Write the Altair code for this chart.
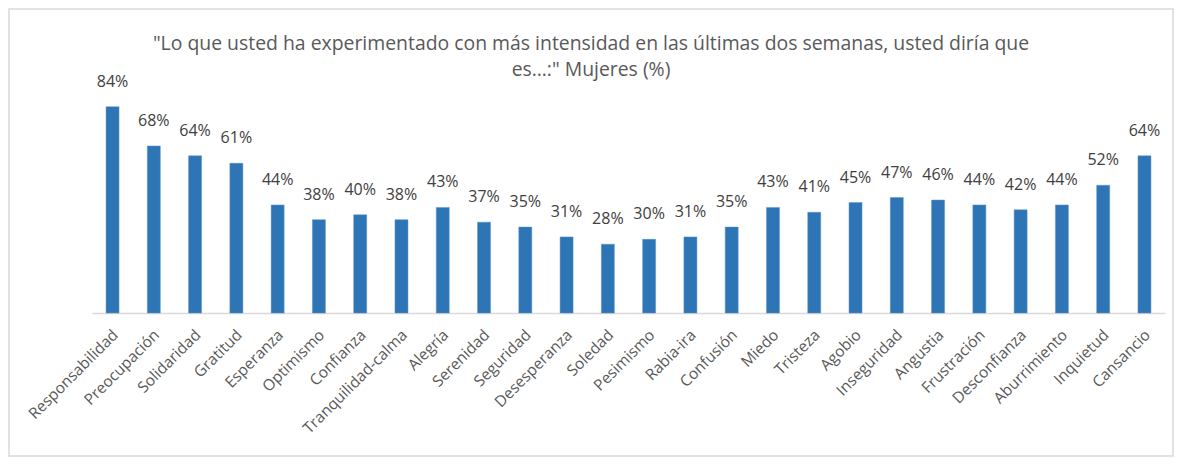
import altair as alt
import pandas as pd

categories = ["Responsabilidad", "Preocupación", "Solidaridad", "Gratitud", "Esperanza",
              "Optimismo", "Confianza", "Tranquilidad-calma", "Alegría", "Serenidad",
              "Seguridad", "Desesperanza", "Soledad", "Pesimismo", "Rabia-ira",
              "Confusión", "Miedo", "Tristeza", "Agobio", "Inseguridad", "Angustia",
              "Frustración", "Desconfianza", "Aburrimiento", "Inquietud", "Cansancio"]
values = [84, 68, 64, 61, 44, 38, 40, 38, 43, 37, 35, 31, 28, 30, 31, 35, 43, 41,
          45, 47, 46, 44, 42, 44, 52, 64]
title_lines = ["\"Lo que usted ha experimentado con más intensidad en las últimas dos semanas, usted diría que",
               "es…:\" Mujeres (%)"]

df = pd.DataFrame({"cat": categories, "val": [v / 100 for v in values],
                   "lab": [f"{v}%" for v in values]})

W, H = 1073, 221
PL, PT, PR, PB = 84, 84, 9, 144
FONT = "Open Sans"

x = alt.X("cat:N", sort=categories, title=None,
          scale=alt.Scale(paddingInner=0.685, paddingOuter=0.34),
          axis=alt.Axis(labelAngle=-45, labelAlign="right", labelBaseline="middle",
                        ticks=False, domainColor="#d9d9d9", domainWidth=1.5,
                        labelFont=FONT, labelFontSize=15.5, labelColor="#595959",
                        labelPadding=19, labelOffset=3))
y = alt.Y("val:Q", scale=alt.Scale(domain=[0, 0.9]), axis=None)

bars = alt.Chart(df).mark_bar(color="#2e75b6", stroke="#5b93c8", strokeWidth=0.5).encode(x=x, y=y)
labels = alt.Chart(df).mark_text(font=FONT, fontSize=16, color="#404040",
                                 baseline="alphabetic", dy=-20).encode(
    x=alt.X("cat:N", sort=categories), y="val:Q", text="lab:N")

border = alt.Chart(pd.DataFrame({"a": [0]})).mark_rect(
    filled=False, stroke="#d9d9d9", strokeWidth=1.5).encode(
    x=alt.value(-PL + 1), x2=alt.value(W + PR - 1),
    y=alt.value(-PT + 1), y2=alt.value(H + PB - 1))

chart = alt.layer(border, bars, labels).properties(
    width=W, height=H,
    padding={"left": PL, "top": PT, "right": PR, "bottom": PB},
    autosize=alt.AutoSizeParams(type="none"),
    title=alt.TitleParams(text=title_lines, font=FONT, fontSize=19.4, fontWeight="normal",
                          color="#595959", anchor="middle", baseline="bottom",
                          offset=-91, dx=-37.5, lineHeight=26),
).configure(background="white").configure_view(stroke=None)

chart.save("out.html", embed_options={"renderer": "svg", "actions": False})
